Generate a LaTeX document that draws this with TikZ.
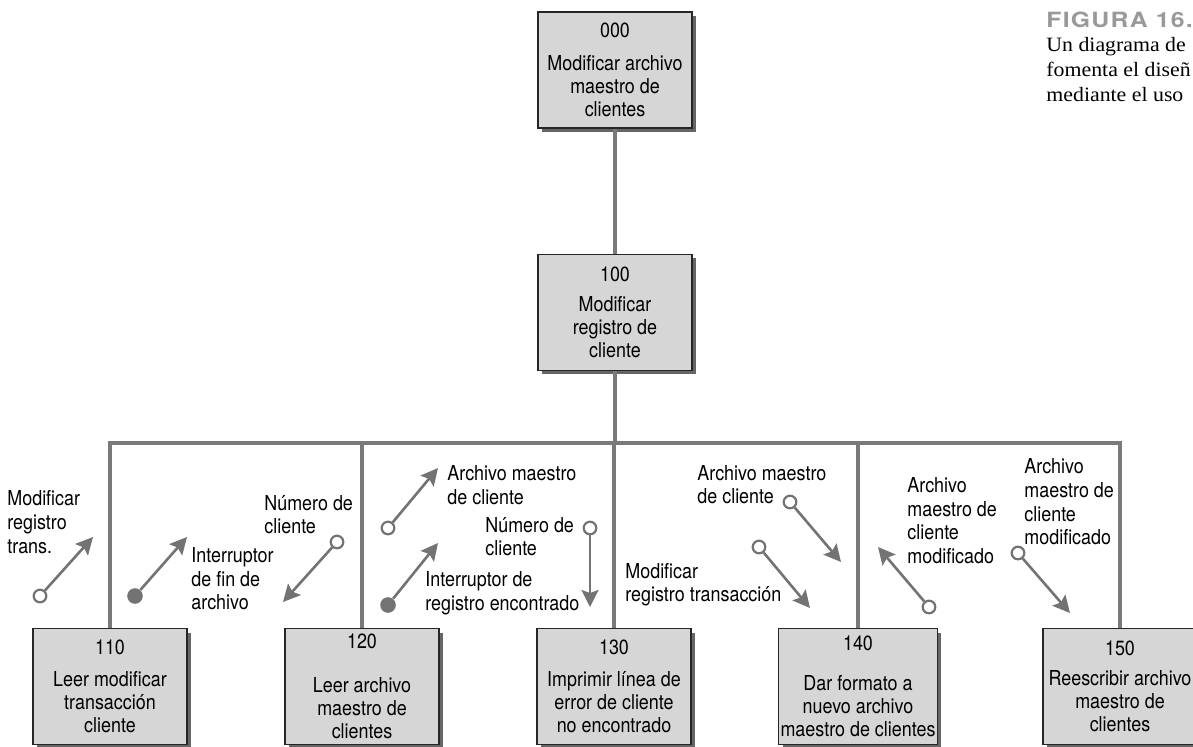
\documentclass[tikz,border=0pt]{standalone}
\usepackage{fontspec}
\setmainfont{TeX Gyre Heros}[FakeStretch=0.87]
\newfontfamily\capserif{Liberation Serif}[FakeStretch=1.07]
\newfontfamily\figfont{TeX Gyre Heros}[FakeStretch=1.18,LetterSpace=6]
\usetikzlibrary{arrows.meta,positioning,shadows}

\begin{document}
\begin{tikzpicture}[
    x=0.5pt, y=-0.5pt,
    >={Stealth[length=8.5pt, width=8.5pt, inset=1.5pt]},
    module/.style={draw=black!85, line width=0.6pt, fill=black!16, minimum width=77pt, minimum height=58pt,
      inner sep=1pt, align=center, font=\fontsize{10.3}{11.6}\selectfont,
      drop shadow={shadow xshift=2pt, shadow yshift=-2pt, fill=black!60, opacity=1}},
    link/.style={draw=black!52, line width=2.3pt},
    flow/.style={->, draw=black!55, line width=1.3pt},
    datacpl/.style={circle, draw=black!55, line width=1.1pt, fill=white, minimum size=6.3pt, inner sep=0pt},
    flagcpl/.style={circle, fill=black!55, minimum size=7.8pt, inner sep=0pt},
    note/.style={align=left, anchor=west, inner sep=0pt, font=\fontsize{10.3}{11.8}\selectfont},
  ]
  \useasboundingbox (0,0) rectangle (1193,746);
  \clip (0,0) rectangle (1193,746);

  % modules
  \node[module] (m000) at (615,70) {000\\[5pt]Modificar archivo\\maestro de\\clientes};
  \node[module, below=62.5pt of m000] (m100) {100\\[3.5pt]Modificar\\registro de\\cliente};
  \node[module] (m110) at (110,686.5) {110\\[4.5pt]Leer modificar\\transacción\\cliente};
  \node[module] (m120) at (362,686.5) {120\\[10.5pt]Leer archivo\\maestro de\\clientes};
  \node[module] (m130) at (614,686.5) {130\\[4.5pt]Imprimir línea de\\error de cliente\\no encontrado};
  \node[module] (m140) at (858,686.5) {140\\[8.5pt]Dar formato a\\nuevo archivo\\maestro de clientes};
  \node[module] (m150) at (1120,686.5) {150\\[3pt]Reescribir archivo\\maestro de\\clientes};

  % calls
  \coordinate (bus) at (615,443);
  \draw[link] (m000.south) -- (m100.north);
  \draw[link] (m100.south) -- (bus);
  \draw[link] (m110.north) |- (bus) -| (m150.north);
  \draw[link] (m120.north) -- (m120.north |- bus);
  \draw[link] (m130.north) -- (m130.north |- bus);
  \draw[link] (m140.north) -- (m140.north |- bus);

  % couples
  \node[datacpl] (c1) at (40,596) {};    \coordinate (t1) at (93,537);
  \node[flagcpl] (c2) at (135,596) {};   \coordinate (t2) at (187,537);
  \node[datacpl] (c3) at (337,542) {};   \coordinate (t3) at (283,602);
  \node[datacpl] (c4) at (388,528) {};   \coordinate (t4) at (438,468);
  \node[datacpl] (c5) at (590,528) {};   \coordinate (t5) at (590,607);
  \node[flagcpl] (c6) at (388,605) {};   \coordinate (t6) at (438,543);
  \node[datacpl] (c7) at (790,502) {};   \coordinate (t7) at (841,562);
  \node[datacpl] (c8) at (759,547) {};   \coordinate (t8) at (810,608);
  \node[datacpl] (c9) at (929,607) {};   \coordinate (t9) at (878,547);
  \node[datacpl] (c10) at (1018,553) {}; \coordinate (t10) at (1070,613);
  \draw[flow] (c1) -- (t1);
  \draw[flow] (c2) -- (t2);
  \draw[flow] (c3) -- (t3);
  \draw[flow] (c4) -- (t4);
  \draw[flow] (c5) -- (t5);
  \draw[flow] (c6) -- (t6);
  \draw[flow] (c7) -- (t7);
  \draw[flow] (c8) -- (t8);
  \draw[flow] (c9) -- (t9);
  \draw[flow] (c10) -- (t10);

  \node[note] (n1) at (7,522) {Modificar\\registro\\trans.};
  \node[note] (n2) at (191,579) {Interruptor\\de fin de\\archivo};
  \node[note] (n3) at (264,514.5) {Número de\\cliente};
  \node[note] (n4) at (447,485) {Archivo maestro\\de cliente};
  \node[note] (n5) at (485,536.5) {Número de\\cliente};
  \node[note] (n6) at (425,593.5) {Interruptor de\\registro encontrado};
  \node[note] (n7) at (697,484.5) {Archivo maestro\\de cliente};
  \node[note] (n8) at (625,584.5) {Modificar\\registro transacción};
  \node[note] (n9) at (907,520.5) {Archivo\\maestro de\\cliente\\modificado};
  \node[note] (n10) at (1024,502) {Archivo\\maestro de\\cliente\\modificado};

  % caption, cut by the page edge
  \node[anchor=west, inner sep=0pt, text=black!40, font=\figfont\bfseries\fontsize{10.5}{12}\selectfont] (fig) at (1046,20) {FIGURA 16.};
  \node[anchor=west, inner sep=0pt, align=left, font=\capserif\fontsize{10.2}{12.5}\selectfont] (cap) at (1046,70) {Un diagrama de\\fomenta el diseñ\\mediante el uso};
\end{tikzpicture}
\end{document}
